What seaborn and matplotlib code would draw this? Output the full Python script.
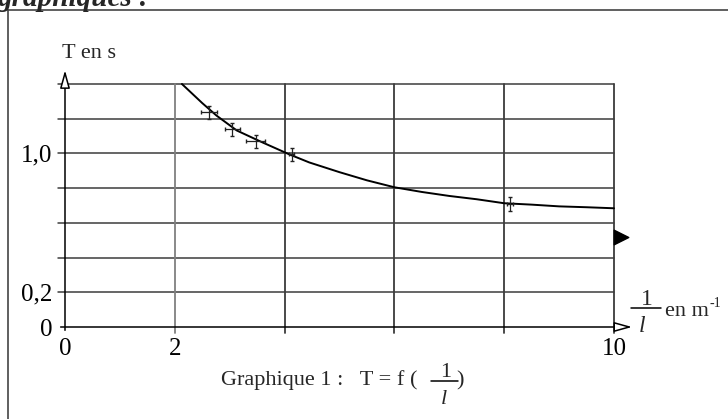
import numpy as np
import pandas as pd
import matplotlib
matplotlib.use("Agg")
import matplotlib.pyplot as plt
from matplotlib.lines import Line2D
import seaborn as sns

# ---- data ----
inv_l_pts = [2.62, 3.05, 3.47, 4.13, 8.11]          # 1/l (m^-1)
T_pts = [1.236, 1.138, 1.069, 0.994, 0.707]          # T (s)
inv_l_err = [0.15, 0.13, 0.17, 0.05, 0.05]
T_err = [0.04, 0.04, 0.04, 0.04, 0.04]

curve_x = [2.13, 2.5, 2.76, 3.13, 3.6, 4.09, 4.45, 5.0, 5.5, 6.0,
           6.5, 7.0, 7.5, 8.0, 8.5, 9.0, 9.5, 10.0]
curve_T = [1.40, 1.29, 1.218, 1.132, 1.063, 0.994, 0.948, 0.892, 0.845, 0.805,
           0.778, 0.755, 0.736, 0.713, 0.705, 0.695, 0.690, 0.684]

marker_x = [10.12]
marker_T = [0.517]

x_ticks = [0, 2, 4, 6, 8, 10]
x_ticklabels = ["0", "2", "", "", "", "10"]
y_ticks = [0, 0.2, 0.4, 0.6, 0.8, 1.0, 1.2, 1.4]
y_ticklabels = ["0", "0,2", "", "", "", "1,0", "", ""]

W, H = 728, 419
sns.set_theme(style="white")
plt.rcParams["font.family"] = ["Liberation Serif", "DejaVu Serif"]

fig = plt.figure(figsize=(W / 100, H / 100), dpi=100)
def fx(px): return px / W
def fy(py): return 1 - py / H

ax = fig.add_axes([fx(65), fy(327), fx(614) - fx(65), fy(84) - fy(327)])
ax.set_xlim(0, 10)
ax.set_ylim(0, 1.4)
for s in ax.spines.values():
    s.set_visible(False)

grid_col = "#3c3c3c"
for yv in y_ticks[1:]:
    ax.plot([-0.13, 10], [yv, yv], color=grid_col, lw=1.1, clip_on=False, zorder=1)
for xv in x_ticks[1:]:
    ax.plot([xv, xv], [-0.035, 1.4], color="#808080" if xv == 2 else grid_col,
            lw=1.3, clip_on=False, zorder=1)

# axes with open arrowheads
ax.annotate("", xy=(10.38, 0), xytext=(-0.13, 0),
            arrowprops=dict(arrowstyle="-|>,head_length=0.9,head_width=0.25",
                            fc="white", ec="black", lw=1.1), annotation_clip=False)
ax.annotate("", xy=(0, 1.495), xytext=(0, -0.035),
            arrowprops=dict(arrowstyle="-|>,head_length=0.9,head_width=0.25",
                            fc="white", ec="black", lw=1.1), annotation_clip=False)

ax.set_xticks(x_ticks)
ax.set_xticklabels(x_ticklabels)
ax.set_yticks(y_ticks)
ax.set_yticklabels(y_ticklabels)
ax.tick_params(axis="both", length=0, labelsize=18, colors="black")
ax.tick_params(axis="x", pad=8)
ax.tick_params(axis="y", pad=9)
ax.grid(False)

df_curve = pd.DataFrame({"x": curve_x, "T": curve_T})
sns.lineplot(data=df_curve, x="x", y="T", ax=ax, color="black", lw=1.4,
             clip_on=False, zorder=3)

ax.errorbar(inv_l_pts, T_pts, xerr=inv_l_err, yerr=T_err, fmt="none",
            ecolor="#222222", elinewidth=0.9, capsize=1.5, zorder=4)

ax.scatter(marker_x, marker_T, marker=">", s=110, color="black", clip_on=False, zorder=5)
ax.set_xlabel("")
ax.set_ylabel("")

# texts
fig.text(fx(62), fy(53), "T en s", fontsize=16, va="center", ha="left")
# x-axis label fraction
fig.text(fx(647), fy(305), "1", fontsize=17, ha="center", va="baseline")
fig.add_artist(Line2D([fx(631), fx(661)], [fy(308), fy(308)], color="black", lw=1.1))
fig.text(fx(642), fy(332), "l", fontsize=17, ha="center", va="baseline", style="italic")
fig.text(fx(665), fy(316), "en m", fontsize=16, ha="left", va="baseline")
fig.text(fx(710), fy(307), "-1", fontsize=10, ha="left", va="baseline")

# caption
fig.text(fx(221), fy(385), "Graphique 1 :   T = f (", fontsize=16, ha="left", va="baseline")
fig.text(fx(446), fy(377), "1", fontsize=16, ha="center", va="baseline")
fig.add_artist(Line2D([fx(431), fx(458)], [fy(381), fy(381)], color="black", lw=1.1))
fig.text(fx(444), fy(404), "l", fontsize=16, ha="center", va="baseline", style="italic")
fig.text(fx(456), fy(385), ")", fontsize=16, ha="left", va="baseline")

# cut-off heading and frame
fig.text(fx(-2), fy(6), "graphiques :", fontsize=21, ha="left", va="baseline",
         style="italic", weight="bold")
fig.add_artist(Line2D([fx(7.5), fx(7.5)], [0, fy(10.5)], color="#444444", lw=1.2))
fig.add_artist(Line2D([fx(7.5), 1], [fy(10.5), fy(10.5)], color="#444444", lw=1.2))

fig.savefig("out.png", dpi=100)
